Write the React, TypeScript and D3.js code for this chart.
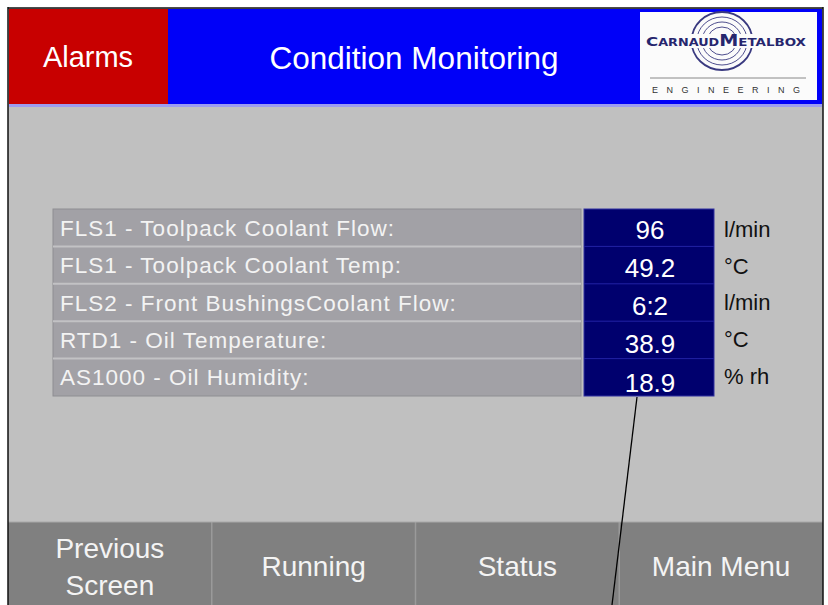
import React, { useEffect, useRef } from 'react';
import * as d3 from 'd3';

// Readings shown on the condition monitoring screen
const readingLabels = [
  'FLS1 - Toolpack Coolant Flow:',
  'FLS1 - Toolpack Coolant Temp:',
  'FLS2 - Front BushingsCoolant Flow:',
  'RTD1 - Oil Temperature:',
  'AS1000 - Oil Humidity:',
];
const readingValues = ['96', '49.2', '6:2', '38.9', '18.9'];
const readingUnits = ['l/min', '°C', 'l/min', '°C', '% rh'];

const navButtons = [['Previous', 'Screen'], ['Running'], ['Status'], ['Main Menu']];

const W = 828;
const H = 605;
const FONT = '"Liberation Sans", Arial, Helvetica, sans-serif';

const App: React.FC = () => {
  const svgRef = useRef<SVGSVGElement>(null);

  useEffect(() => {
    if (!svgRef.current) return;
    const svg = d3.select(svgRef.current);
    svg.selectAll('*').remove();

    // Frame + panel background
    svg.append('rect').attr('width', W).attr('height', H).attr('fill', '#ffffff');
    svg.append('rect')
      .attr('x', 8).attr('y', 8).attr('width', 815).attr('height', H)
      .attr('fill', '#c0c0c0');

    // Header bar
    const header = { top: 9, bottom: 104 };
    svg.append('rect')
      .attr('x', 9).attr('y', header.top).attr('width', 813).attr('height', header.bottom - header.top)
      .attr('fill', '#0000f8');
    svg.append('rect')
      .attr('x', 9).attr('y', header.top).attr('width', 159).attr('height', header.bottom - header.top)
      .attr('fill', '#c80000');
    svg.append('rect')
      .attr('x', 9).attr('y', header.bottom).attr('width', 813).attr('height', 3)
      .attr('fill', '#9c9cf0');

    svg.append('text')
      .attr('x', 88).attr('y', 67)
      .attr('text-anchor', 'middle')
      .attr('fill', '#ffffff')
      .attr('font-family', FONT)
      .attr('font-size', '29px')
      .text('Alarms');

    svg.append('text')
      .attr('x', 414).attr('y', 69)
      .attr('text-anchor', 'middle')
      .attr('fill', '#ffffff')
      .attr('font-family', FONT)
      .attr('font-size', '31.5px')
      .text('Condition Monitoring');

    // Logo
    const logo = svg.append('g');
    logo.append('rect')
      .attr('x', 640).attr('y', 12).attr('width', 177).attr('height', 88)
      .attr('fill', '#fbfbfb');
    const cx = 722;
    const cy = 41;
    [29, 24, 19, 14].forEach((r, i) => {
      logo.append('ellipse')
        .attr('cx', cx).attr('cy', cy).attr('rx', r * 1.05).attr('ry', r)
        .attr('fill', 'none')
        .attr('stroke', '#3a3a80')
        .attr('stroke-width', i === 0 ? 1.8 : 0.9);
    });
    logo.append('rect')
      .attr('x', 644).attr('y', 34).attr('width', 168).attr('height', 14)
      .attr('fill', '#fbfbfb');
    const logoText = logo.append('text')
      .attr('x', 646).attr('y', 46)
      .attr('fill', '#26266e')
      .attr('font-family', '"DejaVu Sans", sans-serif')
      .attr('font-weight', 'bold')
      .attr('textLength', 160)
      .attr('lengthAdjust', 'spacingAndGlyphs');
    [['C', 13], ['ARNAUD', 10], ['M', 15], ['ETALBOX', 10.5]].forEach(([t, s]) => {
      logoText.append('tspan').attr('font-size', `${s}px`).text(t as string);
    });
    logo.append('line')
      .attr('x1', 650).attr('x2', 806).attr('y1', 78).attr('y2', 78)
      .attr('stroke', '#888').attr('stroke-width', 1);
    logo.append('text')
      .attr('x', 652).attr('y', 93)
      .attr('fill', '#333')
      .attr('font-family', FONT)
      .attr('font-size', '9px')
      .attr('textLength', 148)
      .attr('lengthAdjust', 'spacing')
      .text('ENGINEERING');

    // Readings table
    const rows = d3.scaleBand<number>()
      .domain(d3.range(readingLabels.length))
      .range([209, 396])
      .padding(0);
    const labelX = [53, 581];
    const valueX = [584, 714];

    const g = svg.append('g');
    g.append('rect')
      .attr('x', labelX[0]).attr('y', rows.range()[0])
      .attr('width', labelX[1] - labelX[0]).attr('height', rows.range()[1] - rows.range()[0])
      .attr('fill', '#a2a1a6')
      .attr('stroke', '#8e8e92').attr('stroke-width', 1);
    g.append('rect')
      .attr('x', valueX[0]).attr('y', rows.range()[0])
      .attr('width', valueX[1] - valueX[0]).attr('height', rows.range()[1] - rows.range()[0])
      .attr('fill', '#00006e')
      .attr('stroke', '#3030a0').attr('stroke-width', 1);

    // row separators
    d3.range(1, readingLabels.length).forEach((i) => {
      const y = rows(i) || 0;
      g.append('line')
        .attr('x1', labelX[0]).attr('x2', labelX[1]).attr('y1', y).attr('y2', y)
        .attr('stroke', '#c2c2c4').attr('stroke-width', 2);
      g.append('line')
        .attr('x1', valueX[0]).attr('x2', valueX[1]).attr('y1', y).attr('y2', y)
        .attr('stroke', '#2222a4').attr('stroke-width', 1);
    });

    const bw = rows.bandwidth();
    readingLabels.forEach((label, i) => {
      const y = (rows(i) || 0) + bw / 2;
      g.append('text')
        .attr('x', 60).attr('y', y + 8)
        .attr('fill', '#f3f3f3')
        .attr('font-family', FONT)
        .attr('font-size', '22.5px')
        .attr('letter-spacing', '1px')
        .text(label);
      g.append('text')
        .attr('x', (valueX[0] + valueX[1]) / 2 + 1).attr('y', y + 11 + i * 0.8)
        .attr('text-anchor', 'middle')
        .attr('fill', '#ffffff')
        .attr('font-family', FONT)
        .attr('font-size', '26px')
        .text(readingValues[i]);
      g.append('text')
        .attr('x', 724).attr('y', y + 9 - i * 0.6)
        .attr('fill', '#111')
        .attr('font-family', FONT)
        .attr('font-size', '22px')
        .text(readingUnits[i]);
    });

    // Navigation buttons
    const btnTop = 522;
    const btn = d3.scaleBand<number>()
      .domain(d3.range(navButtons.length))
      .range([8, 823])
      .padding(0);
    navButtons.forEach((lines, i) => {
      const x = btn(i) || 0;
      svg.append('rect')
        .attr('x', x).attr('y', btnTop).attr('width', btn.bandwidth()).attr('height', H - btnTop)
        .attr('fill', '#808080');
      const mid = x + btn.bandwidth() / 2;
      const lh = 37;
      const y0 = 576 - ((lines.length - 1) * lh) / 2;
      lines.forEach((t, j) => {
        svg.append('text')
          .attr('x', mid).attr('y', y0 + j * lh)
          .attr('text-anchor', 'middle')
          .attr('fill', '#f4f4f4')
          .attr('font-family', FONT)
          .attr('font-size', '28px')
          .text(t);
      });
    });
    d3.range(1, navButtons.length).forEach((i) => {
      const x = btn(i) || 0;
      svg.append('line')
        .attr('x1', x).attr('x2', x).attr('y1', btnTop).attr('y2', H)
        .attr('stroke', '#9a9a9a').attr('stroke-width', 1.5);
    });
    svg.append('line')
      .attr('x1', 8).attr('x2', 823).attr('y1', btnTop).attr('y2', btnTop)
      .attr('stroke', '#a8a8a8').attr('stroke-width', 1);

    // Frame edges on top
    svg.append('line').attr('x1', 8).attr('x2', 8).attr('y1', 7).attr('y2', H)
      .attr('stroke', '#111').attr('stroke-width', 1.5);
    svg.append('line').attr('x1', 823).attr('x2', 823).attr('y1', 7).attr('y2', H)
      .attr('stroke', '#111').attr('stroke-width', 1.5);
    svg.append('line').attr('x1', 8).attr('x2', 823).attr('y1', 8).attr('y2', 8)
      .attr('stroke', '#111').attr('stroke-width', 1.5);

    // Annotation pointer line
    svg.append('line')
      .attr('x1', 637).attr('y1', 397).attr('x2', 612).attr('y2', H)
      .attr('stroke', '#000').attr('stroke-width', 1.3);
  }, []);

  return (
    <svg
      ref={svgRef}
      width={W}
      height={H}
      style={{ position: 'absolute', left: 0, top: 0, display: 'block' }}
    />
  );
};

export default App;
